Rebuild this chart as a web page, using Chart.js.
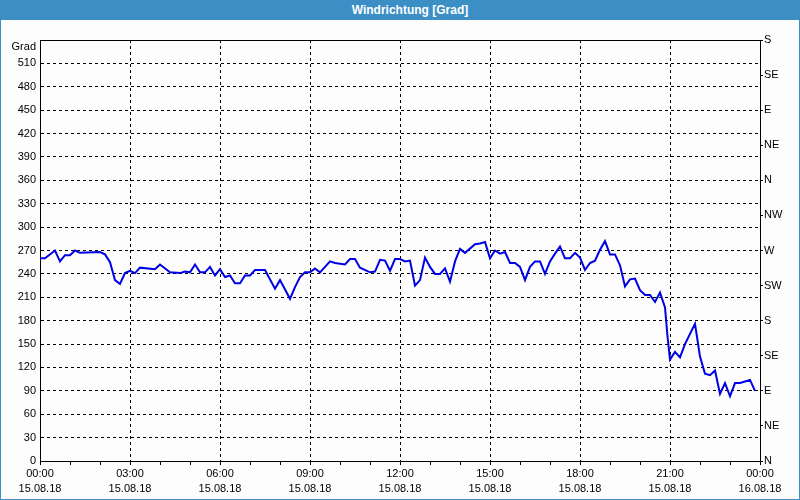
<!DOCTYPE html>
<html>
<head>
<meta charset="utf-8">
<title>Windrichtung</title>
<script src="https://cdn.jsdelivr.net/npm/chart.js@4/dist/chart.umd.min.js"></script>
<style>
  body { margin: 0; background: #fff; }
  #wrap { position: relative; width: 800px; height: 500px; }
  #bar {
    position: absolute; left: 0; top: 0; width: 800px; height: 20px;
    box-sizing: border-box; padding-left: 20px;
    background: #3c8fc5; color: #fff; text-align: center;
    font: bold 12px 'Liberation Sans', Arial, sans-serif; line-height: 20px;
  }
</style>
</head>
<body>
<div id="wrap">
  <canvas id="windChart" width="800" height="500"></canvas>
  <div id="bar">Windrichtung [Grad]</div>
</div>
<script>
// minutes since 15.08.18 00:00
const minutes = [0, 10, 30, 40, 50, 60, 70, 80, 120, 130, 140, 150, 160, 170, 180, 190, 200, 230, 240, 260,
  280, 290, 300, 310, 320, 330, 340, 350, 360, 370, 380, 390, 400, 410, 420, 430, 450, 470, 480, 500,
  510, 520, 530, 540, 550, 560, 580, 590, 610, 620, 630, 640, 660, 670, 680, 690, 700, 710, 720, 730,
  740, 750, 760, 770, 780, 790, 800, 810, 820, 830, 840, 850, 870, 880, 890, 900, 910, 920, 930, 940,
  950, 960, 970, 980, 990, 1000, 1010, 1020, 1030, 1040, 1050, 1060, 1070, 1080, 1090, 1100, 1110, 1120, 1130, 1140,
  1150, 1160, 1170, 1180, 1190, 1200, 1210, 1220, 1230, 1240, 1250, 1255, 1260, 1270, 1280, 1290, 1300, 1310, 1320, 1330,
  1340, 1350, 1360, 1370, 1380, 1390, 1400, 1410, 1420, 1430];
const direction = [260, 260, 270, 256, 264, 264, 270, 267, 268, 265, 255, 232, 227, 241, 244, 241, 248, 246, 252, 242,
  241, 243, 242, 252, 242, 242, 249, 238, 246, 236, 238, 228, 228, 238, 238, 245, 245, 221, 232, 208,
  223, 236, 242, 242, 247, 242, 256, 254, 252, 259, 259, 248, 242, 243, 258, 257, 244, 259, 259, 256,
  257, 225, 232, 261, 249, 240, 240, 247, 230, 256, 272, 267, 278, 279, 281, 260, 270, 266, 268, 254,
  254, 249, 232, 249, 256, 256, 240, 256, 266, 275, 260, 260, 267, 261, 245, 254, 257, 271, 282, 265,
  265, 251, 224, 233, 234, 219, 213, 213, 204, 216, 197, 160, 130, 140, 133, 150, 163, 176, 134, 112,
  110, 116, 86, 100, 83, 100, 100, 102, 104, 90];

// right axis, one label every 45 degrees
const compass = ['N', 'NE', 'E', 'SE', 'S', 'SW', 'W', 'NW', 'N', 'NE', 'E', 'SE', 'S'];
const dayLabels = ['15.08.18', '16.08.18'];

function timeLabel(v) {
  if (v % 180 !== 0) return '';
  const h = Math.floor(v / 60) % 24;
  return [String(h).padStart(2, '0') + ':00', dayLabels[v >= 1440 ? 1 : 0]];
}

const frame = {
  id: 'frame',
  beforeDraw(chart) {
    const ctx = chart.ctx;
    ctx.save();
    ctx.fillStyle = '#fcfdfc';
    ctx.fillRect(0, 0, chart.width, chart.height);
    ctx.strokeStyle = '#3c8fc5';
    ctx.lineWidth = 1;
    ctx.strokeRect(0.5, 0.5, chart.width - 1, chart.height - 1);
    ctx.restore();
  },
  afterDraw(chart) {
    const {ctx, chartArea} = chart;
    ctx.save();
    ctx.strokeStyle = '#000';
    ctx.lineWidth = 1;
    ctx.beginPath();
    const y = Math.round(chartArea.top) + 0.5;
    ctx.moveTo(chartArea.left, y);
    ctx.lineTo(chartArea.right, y);
    ctx.stroke();
    ctx.restore();
  }
};

Chart.defaults.font.family = "'Liberation Sans', Arial, sans-serif";
Chart.defaults.font.size = 11;
Chart.defaults.color = '#000';

new Chart(document.getElementById('windChart'), {
  type: 'line',
  data: {
    datasets: [{
      label: 'Windrichtung',
      data: minutes.map((m, i) => ({x: m, y: direction[i]})),
      borderColor: '#0000e6',
      borderWidth: 2,
      pointRadius: 0,
      tension: 0,
      xAxisID: 'x',
      yAxisID: 'y'
    }]
  },
  options: {
    responsive: false,
    animation: false,
    devicePixelRatio: 1,
    layout: {padding: {left: 0, right: 0, top: 40, bottom: 0}},
    plugins: {
      legend: {display: false},
      tooltip: {enabled: false},
      title: {display: false}
    },
    scales: {
      x: {
        type: 'linear',
        position: 'bottom',
        min: 0,
        max: 1440,
        ticks: {stepSize: 60, autoSkip: false, maxRotation: 0, padding: 2, callback: timeLabel,
          font: {lineHeight: 1.35}},
        grid: {
          color: c => (c.tick && c.tick.value % 180 === 0) ? '#000' : 'rgba(0,0,0,0)',
          tickColor: '#000',
          tickLength: 4
        },
        border: {color: '#000', dash: [3, 3]},
        afterFit: s => { s.height = 39; }
      },
      y: {
        position: 'left',
        min: 0,
        max: 540,
        ticks: {stepSize: 30, autoSkip: false, padding: 4,
          callback: v => v === 540 ? ['', 'Grad'] : v},
        grid: {color: '#000', drawTicks: false},
        border: {color: '#000', dash: [3, 3]},
        afterFit: s => { s.width = 40; }
      },
      y2: {
        position: 'right',
        min: 0,
        max: 540,
        ticks: {stepSize: 45, autoSkip: false, padding: 1, callback: v => compass[v / 45]},
        grid: {drawOnChartArea: false, tickColor: '#000', tickLength: 3},
        border: {color: '#000'},
        afterFit: s => { s.width = 40; }
      }
    }
  },
  plugins: [frame]
});
</script>
</body>
</html>
